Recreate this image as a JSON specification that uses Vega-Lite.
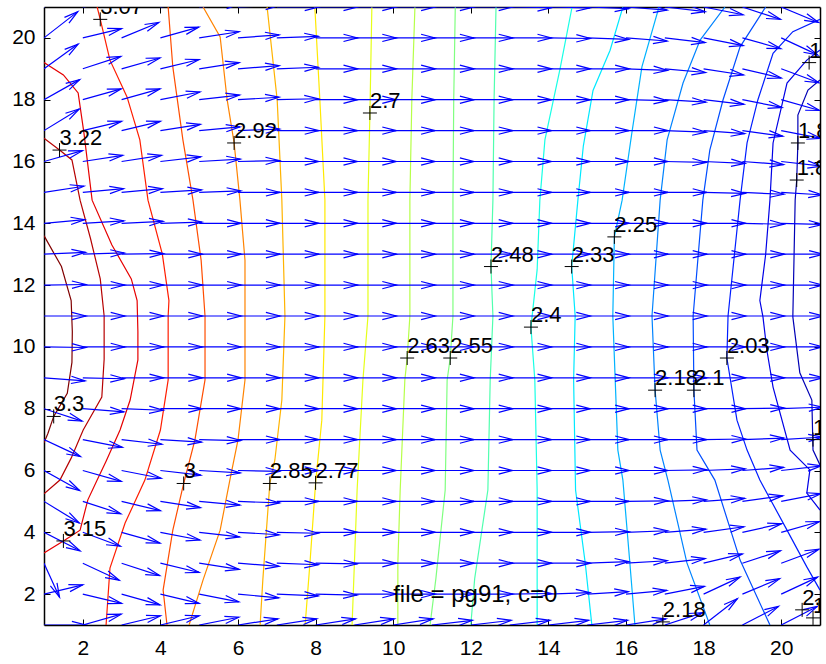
{
"$schema":"https://vega.github.io/schema/vega-lite/v6.json",
"width":776,"height":618,
"autosize":{"type":"none"},
"padding":{"left":44,"top":7,"right":6,"bottom":39},
"background":"white",
"config":{"view":{"stroke":null}},
"datasets":{
"contours":[
{"l":"3.3","o":0,"x":1,"y":13.6},{"l":"3.3","o":1,"x":1.45,"y":12.6},{"l":"3.3","o":2,"x":1.7,"y":11.5},{"l":"3.3","o":3,"x":1.73,"y":10.5},{"l":"3.3","o":4,"x":1.72,"y":9.5},{"l":"3.3","o":5,"x":1.6,"y":8.5},{"l":"3.3","o":6,"x":1.25,"y":7.75},{"l":"3.3","o":7,"x":1.1,"y":7.2},{"l":"3.3","o":8,"x":1,"y":6.9},
{"l":"3.22","o":0,"x":1,"y":16.75},{"l":"3.22","o":1,"x":1.4,"y":16.37},{"l":"3.22","o":2,"x":1.72,"y":16.05},{"l":"3.22","o":3,"x":1.93,"y":14.75},{"l":"3.22","o":4,"x":2.2,"y":13.5},{"l":"3.22","o":5,"x":2.45,"y":12.2},{"l":"3.22","o":6,"x":2.55,"y":11},{"l":"3.22","o":7,"x":2.55,"y":9.6},{"l":"3.22","o":8,"x":2.49,"y":8.38},{"l":"3.22","o":9,"x":2.01,"y":7.31},{"l":"3.22","o":10,"x":1.7,"y":6.4},{"l":"3.22","o":11,"x":1.41,"y":5.69},{"l":"3.22","o":12,"x":1,"y":5.25},
{"l":"3.15","o":0,"x":1,"y":19.2},{"l":"3.15","o":1,"x":1.5,"y":18.8},{"l":"3.15","o":2,"x":1.88,"y":18.22},{"l":"3.15","o":3,"x":2.03,"y":16.92},{"l":"3.15","o":4,"x":2.24,"y":14.75},{"l":"3.15","o":5,"x":2.75,"y":13.3},{"l":"3.15","o":6,"x":3.25,"y":12.2},{"l":"3.15","o":7,"x":3.4,"y":11.5},{"l":"3.15","o":8,"x":3.42,"y":10.5},{"l":"3.15","o":9,"x":3.42,"y":9.58},{"l":"3.15","o":10,"x":3.22,"y":8.28},{"l":"3.15","o":11,"x":2.96,"y":7.31},{"l":"3.15","o":12,"x":2.6,"y":6.3},{"l":"3.15","o":13,"x":2.37,"y":5.69},{"l":"3.15","o":14,"x":2.13,"y":5.05},{"l":"3.15","o":15,"x":1.93,"y":4.07},{"l":"3.15","o":16,"x":1.5,"y":3.72},{"l":"3.15","o":17,"x":1,"y":3.33},
{"l":"3.07","o":0,"x":2.37,"y":21},{"l":"3.07","o":1,"x":2.45,"y":20.6},{"l":"3.07","o":2,"x":2.7,"y":19.28},{"l":"3.07","o":3,"x":3.14,"y":18.09},{"l":"3.07","o":4,"x":3.47,"y":16.7},{"l":"3.07","o":5,"x":3.68,"y":14.75},{"l":"3.07","o":6,"x":4.05,"y":13},{"l":"3.07","o":7,"x":4.22,"y":11.5},{"l":"3.07","o":8,"x":4.2,"y":11},{"l":"3.07","o":9,"x":4.2,"y":8.93},{"l":"3.07","o":10,"x":4,"y":7.31},{"l":"3.07","o":11,"x":3.6,"y":5.69},{"l":"3.07","o":12,"x":3.09,"y":4.3},{"l":"3.07","o":13,"x":2.7,"y":2.84},{"l":"3.07","o":14,"x":2.6,"y":1},
{"l":"3","o":0,"x":4.2,"y":21},{"l":"3","o":1,"x":4.32,"y":19.06},{"l":"3","o":2,"x":4.58,"y":16.7},{"l":"3","o":3,"x":4.84,"y":14.75},{"l":"3","o":4,"x":5.05,"y":12.8},{"l":"3","o":5,"x":5.15,"y":11},{"l":"3","o":6,"x":5.15,"y":8.93},{"l":"3","o":7,"x":4.89,"y":6.99},{"l":"3","o":8,"x":4.6,"y":5.58},{"l":"3","o":9,"x":4.32,"y":4.07},{"l":"3","o":10,"x":4.07,"y":2.13},{"l":"3","o":11,"x":4.17,"y":1},
{"l":"2.92","o":0,"x":5.1,"y":21},{"l":"2.92","o":1,"x":5.54,"y":20.03},{"l":"2.92","o":2,"x":5.72,"y":18},{"l":"2.92","o":3,"x":5.9,"y":16.6},{"l":"2.92","o":4,"x":6.05,"y":14.75},{"l":"2.92","o":5,"x":6.18,"y":12.8},{"l":"2.92","o":6,"x":6.18,"y":11},{"l":"2.92","o":7,"x":6.18,"y":8.93},{"l":"2.92","o":8,"x":6,"y":6.99},{"l":"2.92","o":9,"x":5.79,"y":5.69},{"l":"2.92","o":10,"x":5.54,"y":4.07},{"l":"2.92","o":11,"x":5.1,"y":2.46},{"l":"2.92","o":12,"x":4.74,"y":1},
{"l":"2.85","o":0,"x":6.75,"y":21},{"l":"2.85","o":1,"x":7.01,"y":17.99},{"l":"2.85","o":2,"x":7.13,"y":14.75},{"l":"2.85","o":3,"x":7.21,"y":11},{"l":"2.85","o":4,"x":7.13,"y":8.28},{"l":"2.85","o":5,"x":6.95,"y":6.34},{"l":"2.85","o":6,"x":6.82,"y":5.58},{"l":"2.85","o":7,"x":6.64,"y":2.46},{"l":"2.85","o":8,"x":6.57,"y":1},
{"l":"2.77","o":0,"x":7.98,"y":21},{"l":"2.77","o":1,"x":8.11,"y":17.99},{"l":"2.77","o":2,"x":8.24,"y":14.75},{"l":"2.77","o":3,"x":8.24,"y":11},{"l":"2.77","o":4,"x":8.16,"y":7.63},{"l":"2.77","o":5,"x":8,"y":5.6},{"l":"2.77","o":6,"x":7.86,"y":3.1},{"l":"2.77","o":7,"x":7.73,"y":1},
{"l":"2.7","o":0,"x":9.45,"y":21},{"l":"2.7","o":1,"x":9.4,"y":17.57},{"l":"2.7","o":2,"x":9.35,"y":14.75},{"l":"2.7","o":3,"x":9.35,"y":11},{"l":"2.7","o":4,"x":9.22,"y":8.93},{"l":"2.7","o":5,"x":9.07,"y":5.37},{"l":"2.7","o":6,"x":9,"y":3},{"l":"2.7","o":7,"x":8.94,"y":1},
{"l":"2.63","o":0,"x":10.56,"y":21},{"l":"2.63","o":1,"x":10.48,"y":17.99},{"l":"2.63","o":2,"x":10.43,"y":14.75},{"l":"2.63","o":3,"x":10.43,"y":11},{"l":"2.63","o":4,"x":10.36,"y":9.64},{"l":"2.63","o":5,"x":10.3,"y":8.93},{"l":"2.63","o":6,"x":10.18,"y":5.37},{"l":"2.63","o":7,"x":10.12,"y":3},{"l":"2.63","o":8,"x":10.12,"y":1},
{"l":"2.55","o":0,"x":11.6,"y":21},{"l":"2.55","o":1,"x":11.56,"y":17.99},{"l":"2.55","o":2,"x":11.54,"y":14.75},{"l":"2.55","o":3,"x":11.54,"y":11},{"l":"2.55","o":4,"x":11.47,"y":9.64},{"l":"2.55","o":5,"x":11.39,"y":8.93},{"l":"2.55","o":6,"x":11.34,"y":5.37},{"l":"2.55","o":7,"x":11.1,"y":2.5},{"l":"2.55","o":8,"x":10.95,"y":1},
{"l":"2.48","o":0,"x":12.65,"y":21},{"l":"2.48","o":1,"x":12.6,"y":17.99},{"l":"2.48","o":2,"x":12.57,"y":14.75},{"l":"2.48","o":3,"x":12.52,"y":12.6},{"l":"2.48","o":4,"x":12.57,"y":11},{"l":"2.48","o":5,"x":12.5,"y":8.93},{"l":"2.48","o":6,"x":12.44,"y":5.37},{"l":"2.48","o":7,"x":12.1,"y":2.5},{"l":"2.48","o":8,"x":12,"y":1},
{"l":"2.4","o":0,"x":14.61,"y":21},{"l":"2.4","o":1,"x":14.3,"y":19},{"l":"2.4","o":2,"x":13.91,"y":16.7},{"l":"2.4","o":3,"x":13.78,"y":14.75},{"l":"2.4","o":4,"x":13.71,"y":12.5},{"l":"2.4","o":5,"x":13.55,"y":10.64},{"l":"2.4","o":6,"x":13.65,"y":8.93},{"l":"2.4","o":7,"x":13.71,"y":5.37},{"l":"2.4","o":8,"x":13.71,"y":3},{"l":"2.4","o":9,"x":13.71,"y":1},
{"l":"2.33","o":0,"x":15.92,"y":21},{"l":"2.33","o":1,"x":15.59,"y":19.6},{"l":"2.33","o":2,"x":15.15,"y":18.3},{"l":"2.33","o":3,"x":14.9,"y":16.5},{"l":"2.33","o":4,"x":14.76,"y":14.75},{"l":"2.33","o":5,"x":14.6,"y":12.6},{"l":"2.33","o":6,"x":14.69,"y":11},{"l":"2.33","o":7,"x":14.65,"y":8.93},{"l":"2.33","o":8,"x":14.7,"y":5.37},{"l":"2.33","o":9,"x":14.95,"y":3},{"l":"2.33","o":10,"x":15.12,"y":1},
{"l":"2.25","o":0,"x":16.85,"y":21},{"l":"2.25","o":1,"x":16.41,"y":19.06},{"l":"2.25","o":2,"x":16.15,"y":16.92},{"l":"2.25","o":3,"x":15.9,"y":14.75},{"l":"2.25","o":4,"x":15.7,"y":13.56},{"l":"2.25","o":5,"x":15.66,"y":11},{"l":"2.25","o":6,"x":15.79,"y":6.66},{"l":"2.25","o":7,"x":15.92,"y":5.69},{"l":"2.25","o":8,"x":16.1,"y":3},{"l":"2.25","o":9,"x":16.23,"y":1},
{"l":"2.18","o":0,"x":18.55,"y":21},{"l":"2.18","o":1,"x":17.91,"y":19.93},{"l":"2.18","o":2,"x":17.47,"y":18.54},{"l":"2.18","o":3,"x":17.06,"y":16.7},{"l":"2.18","o":4,"x":16.88,"y":14.75},{"l":"2.18","o":5,"x":16.67,"y":11},{"l":"2.18","o":6,"x":16.75,"y":8.6},{"l":"2.18","o":7,"x":16.88,"y":6.66},{"l":"2.18","o":8,"x":17.08,"y":5.69},{"l":"2.18","o":9,"x":17.57,"y":3.01},{"l":"2.18","o":10,"x":18.16,"y":1},
{"l":"2.1","o":0,"x":19.6,"y":21},{"l":"2.1","o":1,"x":18.94,"y":19.71},{"l":"2.1","o":2,"x":18.5,"y":17.99},{"l":"2.1","o":3,"x":18.16,"y":16.37},{"l":"2.1","o":4,"x":17.98,"y":14.75},{"l":"2.1","o":5,"x":17.73,"y":11},{"l":"2.1","o":6,"x":17.75,"y":8.6},{"l":"2.1","o":7,"x":17.83,"y":6.66},{"l":"2.1","o":8,"x":18.29,"y":5.69},{"l":"2.1","o":9,"x":18.94,"y":3.1},{"l":"2.1","o":10,"x":19.71,"y":1},
{"l":"2.03","o":0,"x":21,"y":20.6},{"l":"2.03","o":1,"x":20.3,"y":20.2},{"l":"2.03","o":2,"x":19.79,"y":19.5},{"l":"2.03","o":3,"x":19.4,"y":18},{"l":"2.03","o":4,"x":19.12,"y":16.6},{"l":"2.03","o":5,"x":18.94,"y":14.75},{"l":"2.03","o":6,"x":18.63,"y":11},{"l":"2.03","o":7,"x":18.6,"y":9.64},{"l":"2.03","o":8,"x":18.86,"y":7.63},{"l":"2.03","o":9,"x":19.12,"y":6.66},{"l":"2.03","o":10,"x":19.45,"y":5.69},{"l":"2.03","o":11,"x":20.15,"y":4.07},{"l":"2.03","o":12,"x":20.66,"y":2.88},{"l":"2.03","o":13,"x":21,"y":2.13},
{"l":"1.95","o":0,"x":21,"y":19.61},{"l":"1.95","o":1,"x":20.66,"y":19.28},{"l":"1.95","o":2,"x":20.15,"y":18.54},{"l":"1.95","o":3,"x":19.79,"y":16.6},{"l":"1.95","o":4,"x":19.71,"y":14.75},{"l":"1.95","o":5,"x":19.6,"y":13},{"l":"1.95","o":6,"x":19.45,"y":11.5},{"l":"1.95","o":7,"x":19.53,"y":10.97},{"l":"1.95","o":8,"x":19.63,"y":9.9},{"l":"1.95","o":9,"x":19.79,"y":8.7},{"l":"1.95","o":10,"x":20.23,"y":6.66},{"l":"1.95","o":11,"x":20.74,"y":6.02},{"l":"1.95","o":12,"x":20.66,"y":5.27},{"l":"1.95","o":13,"x":21,"y":4.72},
{"l":"1.88","o":0,"x":21,"y":18.64},{"l":"1.88","o":1,"x":20.69,"y":18.31},{"l":"1.88","o":2,"x":20.43,"y":17.5},{"l":"1.88","o":3,"x":20.43,"y":16.6},{"l":"1.88","o":4,"x":20.4,"y":15.4},{"l":"1.88","o":5,"x":20.36,"y":14.75},{"l":"1.88","o":6,"x":20.3,"y":10.97},{"l":"1.88","o":7,"x":20.48,"y":9.16},{"l":"1.88","o":8,"x":20.79,"y":8.28},{"l":"1.88","o":9,"x":20.82,"y":6.66},{"l":"1.88","o":10,"x":21,"y":6.18}
],
"arrows":[
{"x":1,"y":21,"xe":1.93,"ye":21.6,"d":-27.2},{"x":2,"y":21,"xe":3.03,"ye":21.2,"d":-8.8},{"x":3,"y":21,"xe":4.02,"ye":21.25,"d":-11},{"x":4,"y":21,"xe":5.03,"ye":21.2,"d":-8.8},{"x":5,"y":21,"xe":6.06,"ye":21.1,"d":-4.3},{"x":6,"y":21,"xe":7.07,"ye":21.05,"d":-2.1},{"x":7,"y":21,"xe":8.08,"ye":21,"d":0},{"x":8,"y":21,"xe":9.08,"ye":21,"d":0},{"x":9,"y":21,"xe":10.08,"ye":21,"d":0},{"x":10,"y":21,"xe":11.08,"ye":21,"d":0},{"x":11,"y":21,"xe":12.08,"ye":21,"d":0},{"x":12,"y":21,"xe":13.08,"ye":21,"d":0},{"x":13,"y":21,"xe":14.08,"ye":20.98,"d":0.8},{"x":14,"y":21,"xe":15.07,"ye":20.97,"d":1.3},{"x":15,"y":21,"xe":16.07,"ye":20.95,"d":2.1},{"x":16,"y":21,"xe":17.06,"ye":20.9,"d":4.3},{"x":17,"y":21,"xe":18.04,"ye":20.85,"d":6.5},{"x":18,"y":21,"xe":19.02,"ye":20.75,"d":11},{"x":19,"y":21,"xe":19.98,"ye":20.6,"d":18},{"x":20,"y":21,"xe":20.96,"ye":20.5,"d":22.6},
{"x":1,"y":20,"xe":1.87,"ye":20.85,"d":-37.9},{"x":2,"y":20,"xe":3.0,"ye":20.3,"d":-13.4},{"x":3,"y":20,"xe":3.96,"ye":20.5,"d":-22.6},{"x":4,"y":20,"xe":4.99,"ye":20.35,"d":-15.7},{"x":5,"y":20,"xe":6.03,"ye":20.2,"d":-8.8},{"x":6,"y":20,"xe":7.06,"ye":20.1,"d":-4.3},{"x":7,"y":20,"xe":8.07,"ye":20.05,"d":-2.1},{"x":8,"y":20,"xe":9.08,"ye":20,"d":0},{"x":9,"y":20,"xe":10.08,"ye":20,"d":0},{"x":10,"y":20,"xe":11.08,"ye":20,"d":0},{"x":11,"y":20,"xe":12.08,"ye":20,"d":0},{"x":12,"y":20,"xe":13.08,"ye":20,"d":0},{"x":13,"y":20,"xe":14.08,"ye":20,"d":0},{"x":14,"y":20,"xe":15.08,"ye":19.98,"d":0.8},{"x":15,"y":20,"xe":16.07,"ye":19.95,"d":2.1},{"x":16,"y":20,"xe":17.06,"ye":19.9,"d":4.3},{"x":17,"y":20,"xe":18.04,"ye":19.85,"d":6.5},{"x":18,"y":20,"xe":19.02,"ye":19.75,"d":11},{"x":19,"y":20,"xe":19.99,"ye":19.65,"d":15.7},{"x":20,"y":20,"xe":20.94,"ye":19.45,"d":25},
{"x":1,"y":19,"xe":1.88,"ye":19.8,"d":-35.9},{"x":2,"y":19,"xe":2.98,"ye":19.4,"d":-18},{"x":3,"y":19,"xe":3.99,"ye":19.35,"d":-15.7},{"x":4,"y":19,"xe":5.0,"ye":19.3,"d":-13.4},{"x":5,"y":19,"xe":6.03,"ye":19.2,"d":-8.8},{"x":6,"y":19,"xe":7.06,"ye":19.1,"d":-4.3},{"x":7,"y":19,"xe":8.07,"ye":19.05,"d":-2.1},{"x":8,"y":19,"xe":9.08,"ye":19,"d":0},{"x":9,"y":19,"xe":10.08,"ye":19,"d":0},{"x":10,"y":19,"xe":11.08,"ye":19,"d":0},{"x":11,"y":19,"xe":12.08,"ye":19,"d":0},{"x":12,"y":19,"xe":13.08,"ye":19,"d":0},{"x":13,"y":19,"xe":14.08,"ye":19,"d":0},{"x":14,"y":19,"xe":15.08,"ye":19,"d":0},{"x":15,"y":19,"xe":16.08,"ye":19,"d":0},{"x":16,"y":19,"xe":17.07,"ye":18.95,"d":2.1},{"x":17,"y":19,"xe":18.05,"ye":18.88,"d":5.2},{"x":18,"y":19,"xe":19.03,"ye":18.8,"d":8.8},{"x":19,"y":19,"xe":20.0,"ye":18.7,"d":13.4},{"x":20,"y":19,"xe":20.97,"ye":18.55,"d":20.3},
{"x":1,"y":18,"xe":1.92,"ye":18.65,"d":-29.4},{"x":2,"y":18,"xe":2.99,"ye":18.35,"d":-15.7},{"x":3,"y":18,"xe":3.99,"ye":18.35,"d":-15.7},{"x":4,"y":18,"xe":5.02,"ye":18.25,"d":-11},{"x":5,"y":18,"xe":6.04,"ye":18.15,"d":-6.5},{"x":6,"y":18,"xe":7.06,"ye":18.08,"d":-3.4},{"x":7,"y":18,"xe":8.07,"ye":18.03,"d":-1.3},{"x":8,"y":18,"xe":9.08,"ye":18,"d":0},{"x":9,"y":18,"xe":10.08,"ye":18,"d":0},{"x":10,"y":18,"xe":11.08,"ye":18,"d":0},{"x":11,"y":18,"xe":12.08,"ye":18,"d":0},{"x":12,"y":18,"xe":13.08,"ye":18,"d":0},{"x":13,"y":18,"xe":14.08,"ye":18,"d":0},{"x":14,"y":18,"xe":15.08,"ye":18,"d":0},{"x":15,"y":18,"xe":16.08,"ye":18,"d":0},{"x":16,"y":18,"xe":17.07,"ye":17.97,"d":1.3},{"x":17,"y":18,"xe":18.06,"ye":17.92,"d":3.4},{"x":18,"y":18,"xe":19.04,"ye":17.85,"d":6.5},{"x":19,"y":18,"xe":20.02,"ye":17.75,"d":11},{"x":20,"y":18,"xe":20.99,"ye":17.65,"d":15.7},
{"x":1,"y":17,"xe":1.91,"ye":17.7,"d":-31.6},{"x":2,"y":17,"xe":3.0,"ye":17.3,"d":-13.4},{"x":3,"y":17,"xe":4.0,"ye":17.3,"d":-13.4},{"x":4,"y":17,"xe":5.03,"ye":17.2,"d":-8.8},{"x":5,"y":17,"xe":6.05,"ye":17.12,"d":-5.2},{"x":6,"y":17,"xe":7.07,"ye":17.05,"d":-2.1},{"x":7,"y":17,"xe":8.08,"ye":17,"d":0},{"x":8,"y":17,"xe":9.08,"ye":17,"d":0},{"x":9,"y":17,"xe":10.08,"ye":17,"d":0},{"x":10,"y":17,"xe":11.08,"ye":17,"d":0},{"x":11,"y":17,"xe":12.08,"ye":17,"d":0},{"x":12,"y":17,"xe":13.08,"ye":17,"d":0},{"x":13,"y":17,"xe":14.08,"ye":17,"d":0},{"x":14,"y":17,"xe":15.08,"ye":17,"d":0},{"x":15,"y":17,"xe":16.08,"ye":17,"d":0},{"x":16,"y":17,"xe":17.08,"ye":17,"d":0},{"x":17,"y":17,"xe":18.07,"ye":16.95,"d":2.1},{"x":18,"y":17,"xe":19.06,"ye":16.9,"d":4.3},{"x":19,"y":17,"xe":20.04,"ye":16.82,"d":7.9},{"x":20,"y":17,"xe":21.02,"ye":16.75,"d":11},
{"x":1,"y":16,"xe":1.99,"ye":16.35,"d":-15.7},{"x":2,"y":16,"xe":3.03,"ye":16.2,"d":-8.8},{"x":3,"y":16,"xe":4.03,"ye":16.2,"d":-8.8},{"x":4,"y":16,"xe":5.04,"ye":16.15,"d":-6.5},{"x":5,"y":16,"xe":6.06,"ye":16.08,"d":-3.4},{"x":6,"y":16,"xe":7.07,"ye":16.03,"d":-1.3},{"x":7,"y":16,"xe":8.08,"ye":16,"d":0},{"x":8,"y":16,"xe":9.08,"ye":16,"d":0},{"x":9,"y":16,"xe":10.08,"ye":16,"d":0},{"x":10,"y":16,"xe":11.08,"ye":16,"d":0},{"x":11,"y":16,"xe":12.08,"ye":16,"d":0},{"x":12,"y":16,"xe":13.08,"ye":16,"d":0},{"x":13,"y":16,"xe":14.08,"ye":16,"d":0},{"x":14,"y":16,"xe":15.08,"ye":16,"d":0},{"x":15,"y":16,"xe":16.08,"ye":16,"d":0},{"x":16,"y":16,"xe":17.08,"ye":16,"d":0},{"x":17,"y":16,"xe":18.07,"ye":15.97,"d":1.3},{"x":18,"y":16,"xe":19.07,"ye":15.94,"d":2.6},{"x":19,"y":16,"xe":20.06,"ye":15.9,"d":4.3},{"x":20,"y":16,"xe":21.04,"ye":15.85,"d":6.5},
{"x":1,"y":15,"xe":2.03,"ye":15.2,"d":-8.8},{"x":2,"y":15,"xe":3.05,"ye":15.12,"d":-5.2},{"x":3,"y":15,"xe":4.05,"ye":15.12,"d":-5.2},{"x":4,"y":15,"xe":5.06,"ye":15.08,"d":-3.4},{"x":5,"y":15,"xe":6.07,"ye":15.05,"d":-2.1},{"x":6,"y":15,"xe":7.08,"ye":15,"d":0},{"x":7,"y":15,"xe":8.08,"ye":15,"d":0},{"x":8,"y":15,"xe":9.08,"ye":15,"d":0},{"x":9,"y":15,"xe":10.08,"ye":15,"d":0},{"x":10,"y":15,"xe":11.08,"ye":15,"d":0},{"x":11,"y":15,"xe":12.08,"ye":15,"d":0},{"x":12,"y":15,"xe":13.08,"ye":15,"d":0},{"x":13,"y":15,"xe":14.08,"ye":15,"d":0},{"x":14,"y":15,"xe":15.08,"ye":15,"d":0},{"x":15,"y":15,"xe":16.08,"ye":15,"d":0},{"x":16,"y":15,"xe":17.08,"ye":15,"d":0},{"x":17,"y":15,"xe":18.08,"ye":15,"d":0},{"x":18,"y":15,"xe":19.07,"ye":14.97,"d":1.3},{"x":19,"y":15,"xe":20.07,"ye":14.94,"d":2.6},{"x":20,"y":15,"xe":21.06,"ye":14.92,"d":3.4},
{"x":1,"y":14,"xe":2.05,"ye":14.12,"d":-5.2},{"x":2,"y":14,"xe":3.06,"ye":14.08,"d":-3.4},{"x":3,"y":14,"xe":4.07,"ye":14.06,"d":-2.6},{"x":4,"y":14,"xe":5.07,"ye":14.04,"d":-1.7},{"x":5,"y":14,"xe":6.08,"ye":14,"d":0},{"x":6,"y":14,"xe":7.08,"ye":14,"d":0},{"x":7,"y":14,"xe":8.08,"ye":14,"d":0},{"x":8,"y":14,"xe":9.08,"ye":14,"d":0},{"x":9,"y":14,"xe":10.08,"ye":14,"d":0},{"x":10,"y":14,"xe":11.08,"ye":14,"d":0},{"x":11,"y":14,"xe":12.08,"ye":14,"d":0},{"x":12,"y":14,"xe":13.08,"ye":14,"d":0},{"x":13,"y":14,"xe":14.08,"ye":14,"d":0},{"x":14,"y":14,"xe":15.08,"ye":14,"d":0},{"x":15,"y":14,"xe":16.08,"ye":14,"d":0},{"x":16,"y":14,"xe":17.08,"ye":14,"d":0},{"x":17,"y":14,"xe":18.08,"ye":14,"d":0},{"x":18,"y":14,"xe":19.08,"ye":14,"d":0},{"x":19,"y":14,"xe":20.07,"ye":13.97,"d":1.3},{"x":20,"y":14,"xe":21.07,"ye":13.96,"d":1.7},
{"x":1,"y":13,"xe":2.07,"ye":13.06,"d":-2.6},{"x":2,"y":13,"xe":3.07,"ye":13.04,"d":-1.7},{"x":3,"y":13,"xe":4.08,"ye":13.02,"d":-0.8},{"x":4,"y":13,"xe":5.08,"ye":13,"d":0},{"x":5,"y":13,"xe":6.08,"ye":13,"d":0},{"x":6,"y":13,"xe":7.08,"ye":13,"d":0},{"x":7,"y":13,"xe":8.08,"ye":13,"d":0},{"x":8,"y":13,"xe":9.08,"ye":13,"d":0},{"x":9,"y":13,"xe":10.08,"ye":13,"d":0},{"x":10,"y":13,"xe":11.08,"ye":13,"d":0},{"x":11,"y":13,"xe":12.08,"ye":13,"d":0},{"x":12,"y":13,"xe":13.08,"ye":13,"d":0},{"x":13,"y":13,"xe":14.08,"ye":13,"d":0},{"x":14,"y":13,"xe":15.08,"ye":13,"d":0},{"x":15,"y":13,"xe":16.08,"ye":13,"d":0},{"x":16,"y":13,"xe":17.08,"ye":13,"d":0},{"x":17,"y":13,"xe":18.08,"ye":13,"d":0},{"x":18,"y":13,"xe":19.08,"ye":13,"d":0},{"x":19,"y":13,"xe":20.08,"ye":13,"d":0},{"x":20,"y":13,"xe":21.08,"ye":13,"d":0},
{"x":1,"y":12,"xe":2.08,"ye":12.02,"d":-0.8},{"x":2,"y":12,"xe":3.08,"ye":12,"d":0},{"x":3,"y":12,"xe":4.08,"ye":12,"d":0},{"x":4,"y":12,"xe":5.08,"ye":12,"d":0},{"x":5,"y":12,"xe":6.08,"ye":12,"d":0},{"x":6,"y":12,"xe":7.08,"ye":12,"d":0},{"x":7,"y":12,"xe":8.08,"ye":12,"d":0},{"x":8,"y":12,"xe":9.08,"ye":12,"d":0},{"x":9,"y":12,"xe":10.08,"ye":12,"d":0},{"x":10,"y":12,"xe":11.08,"ye":12,"d":0},{"x":11,"y":12,"xe":12.08,"ye":12,"d":0},{"x":12,"y":12,"xe":13.08,"ye":12,"d":0},{"x":13,"y":12,"xe":14.08,"ye":12,"d":0},{"x":14,"y":12,"xe":15.08,"ye":12,"d":0},{"x":15,"y":12,"xe":16.08,"ye":12,"d":0},{"x":16,"y":12,"xe":17.08,"ye":12,"d":0},{"x":17,"y":12,"xe":18.08,"ye":12,"d":0},{"x":18,"y":12,"xe":19.08,"ye":12,"d":0},{"x":19,"y":12,"xe":20.08,"ye":12,"d":0},{"x":20,"y":12,"xe":21.08,"ye":12,"d":0},
{"x":1,"y":11,"xe":2.08,"ye":11,"d":0},{"x":2,"y":11,"xe":3.08,"ye":11,"d":0},{"x":3,"y":11,"xe":4.08,"ye":11,"d":0},{"x":4,"y":11,"xe":5.08,"ye":11,"d":0},{"x":5,"y":11,"xe":6.08,"ye":11,"d":0},{"x":6,"y":11,"xe":7.08,"ye":11,"d":0},{"x":7,"y":11,"xe":8.08,"ye":11,"d":0},{"x":8,"y":11,"xe":9.08,"ye":11,"d":0},{"x":9,"y":11,"xe":10.08,"ye":11,"d":0},{"x":10,"y":11,"xe":11.08,"ye":11,"d":0},{"x":11,"y":11,"xe":12.08,"ye":11,"d":0},{"x":12,"y":11,"xe":13.08,"ye":11,"d":0},{"x":13,"y":11,"xe":14.08,"ye":11,"d":0},{"x":14,"y":11,"xe":15.08,"ye":11,"d":0},{"x":15,"y":11,"xe":16.08,"ye":11,"d":0},{"x":16,"y":11,"xe":17.08,"ye":11,"d":0},{"x":17,"y":11,"xe":18.08,"ye":11,"d":0},{"x":18,"y":11,"xe":19.08,"ye":11,"d":0},{"x":19,"y":11,"xe":20.08,"ye":11,"d":0},{"x":20,"y":11,"xe":21.08,"ye":11,"d":0},
{"x":1,"y":10,"xe":2.08,"ye":9.98,"d":0.8},{"x":2,"y":10,"xe":3.08,"ye":10,"d":0},{"x":3,"y":10,"xe":4.08,"ye":10,"d":0},{"x":4,"y":10,"xe":5.08,"ye":10,"d":0},{"x":5,"y":10,"xe":6.08,"ye":10,"d":0},{"x":6,"y":10,"xe":7.08,"ye":10,"d":0},{"x":7,"y":10,"xe":8.08,"ye":10,"d":0},{"x":8,"y":10,"xe":9.08,"ye":10,"d":0},{"x":9,"y":10,"xe":10.08,"ye":10,"d":0},{"x":10,"y":10,"xe":11.08,"ye":10,"d":0},{"x":11,"y":10,"xe":12.08,"ye":10,"d":0},{"x":12,"y":10,"xe":13.08,"ye":10,"d":0},{"x":13,"y":10,"xe":14.08,"ye":10,"d":0},{"x":14,"y":10,"xe":15.08,"ye":10,"d":0},{"x":15,"y":10,"xe":16.08,"ye":10,"d":0},{"x":16,"y":10,"xe":17.08,"ye":10,"d":0},{"x":17,"y":10,"xe":18.08,"ye":10,"d":0},{"x":18,"y":10,"xe":19.08,"ye":10,"d":0},{"x":19,"y":10,"xe":20.08,"ye":10,"d":0},{"x":20,"y":10,"xe":21.08,"ye":10,"d":0},
{"x":1,"y":9,"xe":2.06,"ye":8.9,"d":4.3},{"x":2,"y":9,"xe":3.07,"ye":8.97,"d":1.3},{"x":3,"y":9,"xe":4.08,"ye":9,"d":0},{"x":4,"y":9,"xe":5.08,"ye":9,"d":0},{"x":5,"y":9,"xe":6.08,"ye":9,"d":0},{"x":6,"y":9,"xe":7.08,"ye":9,"d":0},{"x":7,"y":9,"xe":8.08,"ye":9,"d":0},{"x":8,"y":9,"xe":9.08,"ye":9,"d":0},{"x":9,"y":9,"xe":10.08,"ye":9,"d":0},{"x":10,"y":9,"xe":11.08,"ye":9,"d":0},{"x":11,"y":9,"xe":12.08,"ye":9,"d":0},{"x":12,"y":9,"xe":13.08,"ye":9,"d":0},{"x":13,"y":9,"xe":14.08,"ye":9,"d":0},{"x":14,"y":9,"xe":15.08,"ye":9,"d":0},{"x":15,"y":9,"xe":16.08,"ye":9,"d":0},{"x":16,"y":9,"xe":17.08,"ye":9,"d":0},{"x":17,"y":9,"xe":18.08,"ye":9,"d":0},{"x":18,"y":9,"xe":19.08,"ye":9,"d":0},{"x":19,"y":9,"xe":20.08,"ye":9,"d":0},{"x":20,"y":9,"xe":21.08,"ye":9,"d":0},
{"x":1,"y":8,"xe":1.98,"ye":7.6,"d":18},{"x":2,"y":8,"xe":3.06,"ye":7.9,"d":4.3},{"x":3,"y":8,"xe":4.07,"ye":7.95,"d":2.1},{"x":4,"y":8,"xe":5.08,"ye":8,"d":0},{"x":5,"y":8,"xe":6.08,"ye":8,"d":0},{"x":6,"y":8,"xe":7.08,"ye":8,"d":0},{"x":7,"y":8,"xe":8.08,"ye":8,"d":0},{"x":8,"y":8,"xe":9.08,"ye":8,"d":0},{"x":9,"y":8,"xe":10.08,"ye":8,"d":0},{"x":10,"y":8,"xe":11.08,"ye":8,"d":0},{"x":11,"y":8,"xe":12.08,"ye":8,"d":0},{"x":12,"y":8,"xe":13.08,"ye":8,"d":0},{"x":13,"y":8,"xe":14.08,"ye":8,"d":0},{"x":14,"y":8,"xe":15.08,"ye":8,"d":0},{"x":15,"y":8,"xe":16.08,"ye":8,"d":0},{"x":16,"y":8,"xe":17.08,"ye":8,"d":0},{"x":17,"y":8,"xe":18.08,"ye":8,"d":0},{"x":18,"y":8,"xe":19.08,"ye":8,"d":0},{"x":19,"y":8,"xe":20.08,"ye":8.02,"d":-0.8},{"x":20,"y":8,"xe":21.07,"ye":8.05,"d":-2.1},
{"x":1,"y":7,"xe":1.94,"ye":6.45,"d":25},{"x":2,"y":7,"xe":3.02,"ye":6.75,"d":11},{"x":3,"y":7,"xe":4.04,"ye":6.85,"d":6.5},{"x":4,"y":7,"xe":5.06,"ye":6.92,"d":3.4},{"x":5,"y":7,"xe":6.07,"ye":6.97,"d":1.3},{"x":6,"y":7,"xe":7.08,"ye":7,"d":0},{"x":7,"y":7,"xe":8.08,"ye":7,"d":0},{"x":8,"y":7,"xe":9.08,"ye":7,"d":0},{"x":9,"y":7,"xe":10.08,"ye":7,"d":0},{"x":10,"y":7,"xe":11.08,"ye":7,"d":0},{"x":11,"y":7,"xe":12.08,"ye":7,"d":0},{"x":12,"y":7,"xe":13.08,"ye":7,"d":0},{"x":13,"y":7,"xe":14.08,"ye":7,"d":0},{"x":14,"y":7,"xe":15.08,"ye":7,"d":0},{"x":15,"y":7,"xe":16.08,"ye":7,"d":0},{"x":16,"y":7,"xe":17.08,"ye":7,"d":0},{"x":17,"y":7,"xe":18.08,"ye":7,"d":0},{"x":18,"y":7,"xe":19.08,"ye":7.02,"d":-0.8},{"x":19,"y":7,"xe":20.07,"ye":7.05,"d":-2.1},{"x":20,"y":7,"xe":21.06,"ye":7.08,"d":-3.4},
{"x":1,"y":6,"xe":1.92,"ye":5.35,"d":29.4},{"x":2,"y":6,"xe":2.99,"ye":5.65,"d":15.7},{"x":3,"y":6,"xe":4.02,"ye":5.75,"d":11},{"x":4,"y":6,"xe":5.04,"ye":5.85,"d":6.5},{"x":5,"y":6,"xe":6.06,"ye":5.92,"d":3.4},{"x":6,"y":6,"xe":7.07,"ye":5.97,"d":1.3},{"x":7,"y":6,"xe":8.08,"ye":6,"d":0},{"x":8,"y":6,"xe":9.08,"ye":6,"d":0},{"x":9,"y":6,"xe":10.08,"ye":6,"d":0},{"x":10,"y":6,"xe":11.08,"ye":6,"d":0},{"x":11,"y":6,"xe":12.08,"ye":6,"d":0},{"x":12,"y":6,"xe":13.08,"ye":6,"d":0},{"x":13,"y":6,"xe":14.08,"ye":6,"d":0},{"x":14,"y":6,"xe":15.08,"ye":6,"d":0},{"x":15,"y":6,"xe":16.08,"ye":6,"d":0},{"x":16,"y":6,"xe":17.08,"ye":6,"d":0},{"x":17,"y":6,"xe":18.08,"ye":6.02,"d":-0.8},{"x":18,"y":6,"xe":19.07,"ye":6.05,"d":-2.1},{"x":19,"y":6,"xe":20.06,"ye":6.1,"d":-4.3},{"x":20,"y":6,"xe":21.04,"ye":6.15,"d":-6.5},
{"x":1,"y":5,"xe":1.91,"ye":4.3,"d":31.6},{"x":2,"y":5,"xe":2.98,"ye":4.6,"d":18},{"x":3,"y":5,"xe":4.0,"ye":4.7,"d":13.4},{"x":4,"y":5,"xe":5.03,"ye":4.8,"d":8.8},{"x":5,"y":5,"xe":6.05,"ye":4.88,"d":5.2},{"x":6,"y":5,"xe":7.07,"ye":4.95,"d":2.1},{"x":7,"y":5,"xe":8.08,"ye":5,"d":0},{"x":8,"y":5,"xe":9.08,"ye":5,"d":0},{"x":9,"y":5,"xe":10.08,"ye":5,"d":0},{"x":10,"y":5,"xe":11.08,"ye":5,"d":0},{"x":11,"y":5,"xe":12.08,"ye":5,"d":0},{"x":12,"y":5,"xe":13.08,"ye":5,"d":0},{"x":13,"y":5,"xe":14.08,"ye":5,"d":0},{"x":14,"y":5,"xe":15.08,"ye":5,"d":0},{"x":15,"y":5,"xe":16.08,"ye":5,"d":0},{"x":16,"y":5,"xe":17.08,"ye":5.02,"d":-0.8},{"x":17,"y":5,"xe":18.07,"ye":5.05,"d":-2.1},{"x":18,"y":5,"xe":19.06,"ye":5.1,"d":-4.3},{"x":19,"y":5,"xe":20.04,"ye":5.18,"d":-7.9},{"x":20,"y":5,"xe":21.02,"ye":5.25,"d":-11},
{"x":1,"y":4,"xe":1.93,"ye":3.4,"d":27.2},{"x":2,"y":4,"xe":2.97,"ye":3.55,"d":20.3},{"x":3,"y":4,"xe":3.99,"ye":3.65,"d":15.7},{"x":4,"y":4,"xe":5.02,"ye":3.75,"d":11},{"x":5,"y":4,"xe":6.04,"ye":3.85,"d":6.5},{"x":6,"y":4,"xe":7.06,"ye":3.92,"d":3.4},{"x":7,"y":4,"xe":8.07,"ye":3.97,"d":1.3},{"x":8,"y":4,"xe":9.08,"ye":4,"d":0},{"x":9,"y":4,"xe":10.08,"ye":4,"d":0},{"x":10,"y":4,"xe":11.08,"ye":4,"d":0},{"x":11,"y":4,"xe":12.08,"ye":4,"d":0},{"x":12,"y":4,"xe":13.08,"ye":4,"d":0},{"x":13,"y":4,"xe":14.08,"ye":4,"d":0},{"x":14,"y":4,"xe":15.08,"ye":4,"d":0},{"x":15,"y":4,"xe":16.08,"ye":4.02,"d":-0.8},{"x":16,"y":4,"xe":17.07,"ye":4.05,"d":-2.1},{"x":17,"y":4,"xe":18.06,"ye":4.1,"d":-4.3},{"x":18,"y":4,"xe":19.04,"ye":4.18,"d":-7.9},{"x":19,"y":4,"xe":20.01,"ye":4.28,"d":-12.4},{"x":20,"y":4,"xe":20.99,"ye":4.35,"d":-15.7},
{"x":1,"y":3,"xe":1.4,"ye":1.9,"d":65.4},{"x":2,"y":3,"xe":2.94,"ye":2.45,"d":25},{"x":3,"y":3,"xe":3.98,"ye":2.6,"d":18},{"x":4,"y":3,"xe":5.0,"ye":2.7,"d":13.4},{"x":5,"y":3,"xe":6.03,"ye":2.8,"d":8.8},{"x":6,"y":3,"xe":7.06,"ye":2.9,"d":4.3},{"x":7,"y":3,"xe":8.07,"ye":2.95,"d":2.1},{"x":8,"y":3,"xe":9.08,"ye":2.98,"d":0.8},{"x":9,"y":3,"xe":10.08,"ye":3,"d":0},{"x":10,"y":3,"xe":11.08,"ye":3,"d":0},{"x":11,"y":3,"xe":12.08,"ye":3,"d":0},{"x":12,"y":3,"xe":13.08,"ye":3,"d":0},{"x":13,"y":3,"xe":14.08,"ye":3,"d":0},{"x":14,"y":3,"xe":15.08,"ye":3,"d":0},{"x":15,"y":3,"xe":16.07,"ye":3.05,"d":-2.1},{"x":16,"y":3,"xe":17.06,"ye":3.08,"d":-3.4},{"x":17,"y":3,"xe":18.04,"ye":3.15,"d":-6.5},{"x":18,"y":3,"xe":19.0,"ye":3.3,"d":-13.4},{"x":19,"y":3,"xe":19.98,"ye":3.4,"d":-18},{"x":20,"y":3,"xe":20.97,"ye":3.45,"d":-20.3},
{"x":1,"y":2,"xe":2.0,"ye":2.3,"d":-13.4},{"x":2,"y":2,"xe":3.0,"ye":1.7,"d":13.4},{"x":3,"y":2,"xe":3.99,"ye":1.65,"d":15.7},{"x":4,"y":2,"xe":5.0,"ye":1.7,"d":13.4},{"x":5,"y":2,"xe":6.02,"ye":1.75,"d":11},{"x":6,"y":2,"xe":7.05,"ye":1.88,"d":5.2},{"x":7,"y":2,"xe":8.07,"ye":1.94,"d":2.6},{"x":8,"y":2,"xe":9.07,"ye":1.97,"d":1.3},{"x":9,"y":2,"xe":10.08,"ye":2,"d":0},{"x":10,"y":2,"xe":11.08,"ye":2,"d":0},{"x":11,"y":2,"xe":12.08,"ye":2,"d":0},{"x":12,"y":2,"xe":13.08,"ye":2,"d":0},{"x":13,"y":2,"xe":14.08,"ye":2.02,"d":-0.8},{"x":14,"y":2,"xe":15.07,"ye":2.05,"d":-2.1},{"x":15,"y":2,"xe":16.06,"ye":2.08,"d":-3.4},{"x":16,"y":2,"xe":17.05,"ye":2.12,"d":-5.2},{"x":17,"y":2,"xe":18.02,"ye":2.25,"d":-11},{"x":18,"y":2,"xe":18.94,"ye":2.55,"d":-25},{"x":19,"y":2,"xe":19.96,"ye":2.5,"d":-22.6},{"x":20,"y":2,"xe":20.94,"ye":2.55,"d":-25},
{"x":1,"y":1,"xe":2.08,"ye":1,"d":0},{"x":2,"y":1,"xe":2.99,"ye":1.35,"d":-15.7},{"x":3,"y":1,"xe":4.0,"ye":1.3,"d":-13.4},{"x":4,"y":1,"xe":5.0,"ye":1.3,"d":-13.4},{"x":5,"y":1,"xe":6.02,"ye":1.25,"d":-11},{"x":6,"y":1,"xe":7.03,"ye":1.2,"d":-8.8},{"x":7,"y":1,"xe":8.03,"ye":1.2,"d":-8.8},{"x":8,"y":1,"xe":9.03,"ye":1.2,"d":-8.8},{"x":9,"y":1,"xe":10.03,"ye":1.2,"d":-8.8},{"x":10,"y":1,"xe":11.03,"ye":1.2,"d":-8.8},{"x":11,"y":1,"xe":12.04,"ye":1.15,"d":-6.5},{"x":12,"y":1,"xe":13.04,"ye":1.15,"d":-6.5},{"x":13,"y":1,"xe":14.04,"ye":1.15,"d":-6.5},{"x":14,"y":1,"xe":15.04,"ye":1.15,"d":-6.5},{"x":15,"y":1,"xe":16.04,"ye":1.15,"d":-6.5},{"x":16,"y":1,"xe":17.03,"ye":1.2,"d":-8.8},{"x":17,"y":1,"xe":17.98,"ye":1.4,"d":-18},{"x":18,"y":1,"xe":18.87,"ye":1.85,"d":-37.9},{"x":19,"y":1,"xe":19.93,"ye":1.6,"d":-27.2},{"x":20,"y":1,"xe":20.93,"ye":1.6,"d":-27.2}
],
"labels":[
{"t":"3.3","x":1.25,"y":7.75},{"t":"3.22","x":1.4,"y":16.37},{"t":"3.15","x":1.5,"y":3.72},{"t":"3.07","x":2.45,"y":20.6},{"t":"3","x":4.6,"y":5.58},{"t":"2.92","x":5.9,"y":16.6},{"t":"2.85","x":6.82,"y":5.58},{"t":"2.77","x":8.0,"y":5.6},{"t":"2.7","x":9.4,"y":17.57},{"t":"2.63","x":10.36,"y":9.64},{"t":"2.55","x":11.47,"y":9.64},{"t":"2.48","x":12.52,"y":12.6},{"t":"2.4","x":13.55,"y":10.64},{"t":"2.33","x":14.6,"y":12.6},{"t":"2.25","x":15.7,"y":13.56},{"t":"2.18","x":16.75,"y":8.6},{"t":"2.1","x":17.75,"y":8.6},{"t":"2.03","x":18.6,"y":9.64},{"t":"2.18","x":16.95,"y":1.1},{"t":"1.95","x":20.72,"y":19.2},{"t":"1.88","x":20.43,"y":16.6},{"t":"1.88","x":20.4,"y":15.4},{"t":"1.88","x":20.82,"y":7.0},{"t":"2.03","x":20.54,"y":1.49},{"t":"1.95","x":20.82,"y":1.23}
],
"note":[{"t":"file = pg91, c=0","x":10.0,"y":1.75}]
},
"layer":[
{"data":{"name":"contours"},
 "mark":{"type":"line","strokeWidth":1.2,"clip":true,"interpolate":"linear"},
 "encoding":{
  "x":{"field":"x","type":"quantitative","scale":{"domain":[1,21],"nice":false,"zero":false},
       "axis":{"orient":"bottom","values":[2,4,6,8,10,12,14,16,18,20],"title":null,"grid":false,"domainColor":"#000","domainWidth":1.5,"tickColor":"#000","tickWidth":1,"tickSize":-6,"labelFont":"Liberation Sans","labelFontSize":21,"labelColor":"#000","labelPadding":18}},
  "y":{"field":"y","type":"quantitative","scale":{"domain":[1,21],"nice":false,"zero":false},
       "axis":{"orient":"left","values":[2,4,6,8,10,12,14,16,18,20],"title":null,"grid":false,"domainColor":"#000","domainWidth":1.5,"tickColor":"#000","tickWidth":1,"tickSize":-6,"labelFont":"Liberation Sans","labelFontSize":21,"labelColor":"#000","labelPadding":15}},
  "color":{"field":"l","type":"nominal","legend":null,
    "scale":{"domain":["3.3","3.22","3.15","3.07","3","2.92","2.85","2.77","2.7","2.63","2.55","2.48","2.4","2.33","2.25","2.18","2.1","2.03","1.95","1.88"],
             "range":["#800000","#b60000","#e60000","#ff1d00","#ff4d00","#ff8300","#ffb300","#ffe900","#e6ff19","#b6ff49","#80ff80","#50ffaf","#19ffe6","#00e9ff","#00b3ff","#0083ff","#004dff","#001dff","#0000e6","#0000b6"]}},
  "order":{"field":"o","type":"quantitative"}}},
{"data":{"name":"arrows"},
 "mark":{"type":"rule","color":"#0000ff","strokeWidth":1.2,"clip":true},
 "encoding":{"x":{"field":"x","type":"quantitative","axis":null},"y":{"field":"y","type":"quantitative","axis":null},"x2":{"field":"xe"},"y2":{"field":"ye"}}},
{"data":{"name":"arrows"},
 "mark":{"type":"point","shape":"M-1,-0.26L0,0L-1,0.26","size":784,"filled":false,"color":"#0000ff","strokeWidth":1.2,"opacity":1,"clip":true},
 "encoding":{"x":{"field":"xe","type":"quantitative","axis":null},"y":{"field":"ye","type":"quantitative","axis":null},"angle":{"field":"d","type":"quantitative","scale":null}}},
{"data":{"name":"labels"},
 "mark":{"type":"point","shape":"M-1,0L1,0M0,-1L0,1","size":196,"filled":false,"color":"#000","strokeWidth":1,"opacity":1,"clip":true},
 "encoding":{"x":{"field":"x","type":"quantitative","axis":null},"y":{"field":"y","type":"quantitative","axis":null}}},
{"data":{"name":"labels"},
 "mark":{"type":"text","align":"left","baseline":"alphabetic","dy":-5,"font":"Liberation Sans","fontSize":22,"color":"#000","clip":true},
 "encoding":{"x":{"field":"x","type":"quantitative","axis":null},"y":{"field":"y","type":"quantitative","axis":null},"text":{"field":"t"}}},
{"data":{"name":"note"},
 "mark":{"type":"text","align":"left","baseline":"alphabetic","font":"Liberation Sans","fontSize":24,"color":"#000","clip":true},
 "encoding":{
  "x":{"field":"x","type":"quantitative","axis":{"orient":"top","values":[2,4,6,8,10,12,14,16,18,20],"labels":false,"title":null,"grid":false,"domainColor":"#000","domainWidth":1.5,"tickColor":"#000","tickWidth":1,"tickSize":-6}},
  "y":{"field":"y","type":"quantitative","axis":{"orient":"right","values":[2,4,6,8,10,12,14,16,18,20],"labels":false,"title":null,"grid":false,"domainColor":"#000","domainWidth":1.5,"tickColor":"#000","tickWidth":1,"tickSize":-6}},
  "text":{"field":"t"}}}
],
"resolve":{"axis":{"x":"independent","y":"independent"}}
}
